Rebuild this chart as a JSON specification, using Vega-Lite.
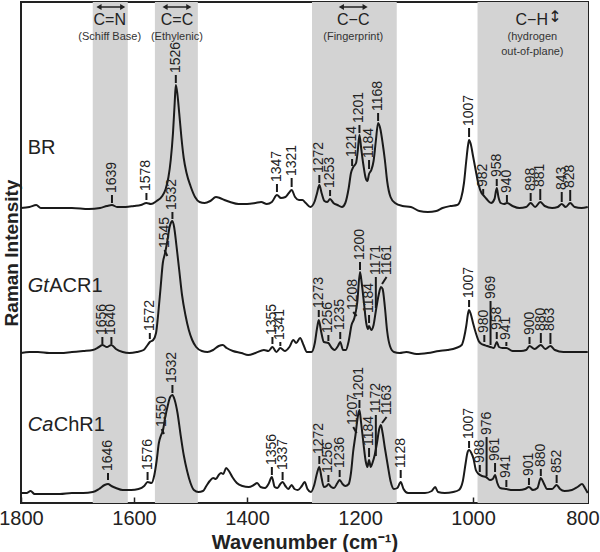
{
"$schema":"https://vega.github.io/schema/vega-lite/v6.json",
"width":567,"height":501,
"autosize":{"type":"none"},
"padding":{"left":21,"top":2,"right":12,"bottom":49},
"background":"white",
"config":{"view":{"stroke":"#222","strokeWidth":2},"font":"Liberation Sans"},
"datasets":{
"regions":[{"wn":1673,"wn2":1611},{"wn":1563,"wn2":1487},{"wn":1285,"wn2":1135},{"wn":992,"wn2":796.5}],
"spec":[
{"s":"BR","wn":1800,"v":295},{"s":"BR","wn":1785,"v":296},{"s":"BR","wn":1773,"v":298},{"s":"BR","wn":1765,"v":295},{"s":"BR","wn":1740,"v":295},{"s":"BR","wn":1710,"v":295},{"s":"BR","wn":1680,"v":294},{"s":"BR","wn":1660,"v":295},{"s":"BR","wn":1648,"v":297},{"s":"BR","wn":1639,"v":298},{"s":"BR","wn":1630,"v":296},{"s":"BR","wn":1615,"v":296},{"s":"BR","wn":1600,"v":297},{"s":"BR","wn":1588,"v":298},{"s":"BR","wn":1578,"v":300},{"s":"BR","wn":1570,"v":299},{"s":"BR","wn":1560,"v":302},{"s":"BR","wn":1550,"v":307},{"s":"BR","wn":1544,"v":314},{"s":"BR","wn":1539,"v":326},{"s":"BR","wn":1535,"v":343},{"s":"BR","wn":1531,"v":370},{"s":"BR","wn":1528,"v":400},{"s":"BR","wn":1526,"v":418},{"s":"BR","wn":1523,"v":408},{"s":"BR","wn":1520,"v":390},{"s":"BR","wn":1516,"v":365},{"s":"BR","wn":1512,"v":345},{"s":"BR","wn":1507,"v":330},{"s":"BR","wn":1500,"v":317},{"s":"BR","wn":1492,"v":306},{"s":"BR","wn":1484,"v":301},{"s":"BR","wn":1475,"v":300},{"s":"BR","wn":1465,"v":302},{"s":"BR","wn":1455,"v":306},{"s":"BR","wn":1448,"v":305},{"s":"BR","wn":1440,"v":303},{"s":"BR","wn":1430,"v":301},{"s":"BR","wn":1415,"v":299},{"s":"BR","wn":1400,"v":299},{"s":"BR","wn":1385,"v":300},{"s":"BR","wn":1375,"v":301},{"s":"BR","wn":1365,"v":299},{"s":"BR","wn":1356,"v":301},{"s":"BR","wn":1347,"v":308},{"s":"BR","wn":1340,"v":305},{"s":"BR","wn":1332,"v":306},{"s":"BR","wn":1326,"v":310},{"s":"BR","wn":1321,"v":313},{"s":"BR","wn":1315,"v":306},{"s":"BR","wn":1308,"v":303},{"s":"BR","wn":1302,"v":303},{"s":"BR","wn":1296,"v":300},{"s":"BR","wn":1288,"v":296},{"s":"BR","wn":1280,"v":302},{"s":"BR","wn":1276,"v":310},{"s":"BR","wn":1272,"v":318},{"s":"BR","wn":1268,"v":310},{"s":"BR","wn":1263,"v":302},{"s":"BR","wn":1258,"v":301},{"s":"BR","wn":1253,"v":304},{"s":"BR","wn":1247,"v":300},{"s":"BR","wn":1240,"v":298},{"s":"BR","wn":1232,"v":296},{"s":"BR","wn":1226,"v":300},{"s":"BR","wn":1220,"v":315},{"s":"BR","wn":1216,"v":330},{"s":"BR","wn":1212,"v":336},{"s":"BR","wn":1207,"v":340},{"s":"BR","wn":1204,"v":352},{"s":"BR","wn":1201,"v":368},{"s":"BR","wn":1198,"v":355},{"s":"BR","wn":1194,"v":338},{"s":"BR","wn":1190,"v":325},{"s":"BR","wn":1187,"v":322},{"s":"BR","wn":1184,"v":329},{"s":"BR","wn":1180,"v":333},{"s":"BR","wn":1176,"v":342},{"s":"BR","wn":1172,"v":362},{"s":"BR","wn":1168,"v":380},{"s":"BR","wn":1164,"v":374},{"s":"BR","wn":1160,"v":360},{"s":"BR","wn":1156,"v":343},{"s":"BR","wn":1152,"v":322},{"s":"BR","wn":1146,"v":306},{"s":"BR","wn":1138,"v":300},{"s":"BR","wn":1125,"v":297},{"s":"BR","wn":1110,"v":296},{"s":"BR","wn":1095,"v":292},{"s":"BR","wn":1080,"v":291},{"s":"BR","wn":1065,"v":292},{"s":"BR","wn":1054,"v":295},{"s":"BR","wn":1040,"v":297},{"s":"BR","wn":1028,"v":298},{"s":"BR","wn":1021,"v":305},{"s":"BR","wn":1016,"v":320},{"s":"BR","wn":1012,"v":342},{"s":"BR","wn":1009,"v":357},{"s":"BR","wn":1007,"v":363},{"s":"BR","wn":1004,"v":359},{"s":"BR","wn":1000,"v":347},{"s":"BR","wn":995,"v":332},{"s":"BR","wn":990,"v":318},{"s":"BR","wn":985,"v":310},{"s":"BR","wn":982,"v":308},{"s":"BR","wn":976,"v":304},{"s":"BR","wn":968,"v":300},{"s":"BR","wn":962,"v":304},{"s":"BR","wn":958,"v":315},{"s":"BR","wn":955,"v":306},{"s":"BR","wn":951,"v":300},{"s":"BR","wn":945,"v":299},{"s":"BR","wn":940,"v":300},{"s":"BR","wn":930,"v":297},{"s":"BR","wn":918,"v":295},{"s":"BR","wn":906,"v":296},{"s":"BR","wn":898,"v":300},{"s":"BR","wn":890,"v":296},{"s":"BR","wn":881,"v":301},{"s":"BR","wn":873,"v":297},{"s":"BR","wn":860,"v":295},{"s":"BR","wn":850,"v":296},{"s":"BR","wn":843,"v":299},{"s":"BR","wn":836,"v":296},{"s":"BR","wn":828,"v":300},{"s":"BR","wn":820,"v":296},{"s":"BR","wn":808,"v":295},{"s":"BR","wn":797,"v":296},
{"s":"Gt","wn":1800,"v":150},{"s":"Gt","wn":1785,"v":151},{"s":"Gt","wn":1770,"v":151},{"s":"Gt","wn":1750,"v":150},{"s":"Gt","wn":1730,"v":150},{"s":"Gt","wn":1710,"v":151},{"s":"Gt","wn":1690,"v":152},{"s":"Gt","wn":1673,"v":153},{"s":"Gt","wn":1662,"v":156},{"s":"Gt","wn":1656,"v":158},{"s":"Gt","wn":1648,"v":156},{"s":"Gt","wn":1640,"v":158},{"s":"Gt","wn":1632,"v":154},{"s":"Gt","wn":1620,"v":151},{"s":"Gt","wn":1608,"v":150},{"s":"Gt","wn":1595,"v":151},{"s":"Gt","wn":1583,"v":153},{"s":"Gt","wn":1576,"v":158},{"s":"Gt","wn":1572,"v":161},{"s":"Gt","wn":1566,"v":163},{"s":"Gt","wn":1561,"v":170},{"s":"Gt","wn":1557,"v":190},{"s":"Gt","wn":1553,"v":215},{"s":"Gt","wn":1549,"v":240},{"s":"Gt","wn":1545,"v":250},{"s":"Gt","wn":1541,"v":262},{"s":"Gt","wn":1537,"v":276},{"s":"Gt","wn":1534,"v":281},{"s":"Gt","wn":1532,"v":282},{"s":"Gt","wn":1529,"v":276},{"s":"Gt","wn":1525,"v":258},{"s":"Gt","wn":1520,"v":233},{"s":"Gt","wn":1515,"v":208},{"s":"Gt","wn":1509,"v":188},{"s":"Gt","wn":1503,"v":173},{"s":"Gt","wn":1497,"v":163},{"s":"Gt","wn":1490,"v":156},{"s":"Gt","wn":1480,"v":152},{"s":"Gt","wn":1470,"v":151},{"s":"Gt","wn":1460,"v":153},{"s":"Gt","wn":1450,"v":157},{"s":"Gt","wn":1443,"v":158},{"s":"Gt","wn":1436,"v":155},{"s":"Gt","wn":1425,"v":152},{"s":"Gt","wn":1410,"v":150},{"s":"Gt","wn":1398,"v":148},{"s":"Gt","wn":1385,"v":150},{"s":"Gt","wn":1370,"v":153},{"s":"Gt","wn":1362,"v":152},{"s":"Gt","wn":1355,"v":156},{"s":"Gt","wn":1348,"v":151},{"s":"Gt","wn":1341,"v":155},{"s":"Gt","wn":1333,"v":152},{"s":"Gt","wn":1325,"v":156},{"s":"Gt","wn":1318,"v":163},{"s":"Gt","wn":1313,"v":160},{"s":"Gt","wn":1306,"v":165},{"s":"Gt","wn":1300,"v":158},{"s":"Gt","wn":1294,"v":151},{"s":"Gt","wn":1286,"v":151},{"s":"Gt","wn":1280,"v":160},{"s":"Gt","wn":1276,"v":175},{"s":"Gt","wn":1273,"v":183},{"s":"Gt","wn":1269,"v":172},{"s":"Gt","wn":1264,"v":161},{"s":"Gt","wn":1256,"v":160},{"s":"Gt","wn":1250,"v":155},{"s":"Gt","wn":1245,"v":153},{"s":"Gt","wn":1239,"v":157},{"s":"Gt","wn":1235,"v":161},{"s":"Gt","wn":1230,"v":153},{"s":"Gt","wn":1225,"v":153},{"s":"Gt","wn":1220,"v":162},{"s":"Gt","wn":1215,"v":178},{"s":"Gt","wn":1210,"v":185},{"s":"Gt","wn":1205,"v":200},{"s":"Gt","wn":1200,"v":231},{"s":"Gt","wn":1197,"v":220},{"s":"Gt","wn":1193,"v":200},{"s":"Gt","wn":1189,"v":180},{"s":"Gt","wn":1186,"v":174},{"s":"Gt","wn":1184,"v":177},{"s":"Gt","wn":1180,"v":173},{"s":"Gt","wn":1176,"v":178},{"s":"Gt","wn":1172,"v":192},{"s":"Gt","wn":1167,"v":208},{"s":"Gt","wn":1163,"v":216},{"s":"Gt","wn":1160,"v":214},{"s":"Gt","wn":1156,"v":196},{"s":"Gt","wn":1152,"v":172},{"s":"Gt","wn":1147,"v":157},{"s":"Gt","wn":1140,"v":151},{"s":"Gt","wn":1130,"v":150},{"s":"Gt","wn":1118,"v":151},{"s":"Gt","wn":1100,"v":149},{"s":"Gt","wn":1080,"v":150},{"s":"Gt","wn":1060,"v":152},{"s":"Gt","wn":1045,"v":153},{"s":"Gt","wn":1030,"v":155},{"s":"Gt","wn":1020,"v":158},{"s":"Gt","wn":1016,"v":165},{"s":"Gt","wn":1012,"v":177},{"s":"Gt","wn":1009,"v":189},{"s":"Gt","wn":1007,"v":193},{"s":"Gt","wn":1004,"v":189},{"s":"Gt","wn":1000,"v":180},{"s":"Gt","wn":995,"v":170},{"s":"Gt","wn":990,"v":162},{"s":"Gt","wn":985,"v":159},{"s":"Gt","wn":980,"v":158},{"s":"Gt","wn":975,"v":157},{"s":"Gt","wn":969,"v":156},{"s":"Gt","wn":963,"v":155},{"s":"Gt","wn":958,"v":161},{"s":"Gt","wn":954,"v":156},{"s":"Gt","wn":948,"v":155},{"s":"Gt","wn":941,"v":155},{"s":"Gt","wn":930,"v":152},{"s":"Gt","wn":915,"v":152},{"s":"Gt","wn":906,"v":153},{"s":"Gt","wn":900,"v":157},{"s":"Gt","wn":891,"v":154},{"s":"Gt","wn":880,"v":158},{"s":"Gt","wn":872,"v":154},{"s":"Gt","wn":863,"v":157},{"s":"Gt","wn":855,"v":153},{"s":"Gt","wn":840,"v":151},{"s":"Gt","wn":820,"v":151},{"s":"Gt","wn":797,"v":151},
{"s":"Ca","wn":1800,"v":10},{"s":"Ca","wn":1790,"v":10},{"s":"Ca","wn":1783,"v":12},{"s":"Ca","wn":1776,"v":9},{"s":"Ca","wn":1760,"v":9},{"s":"Ca","wn":1731,"v":9},{"s":"Ca","wn":1710,"v":10},{"s":"Ca","wn":1690,"v":10},{"s":"Ca","wn":1673,"v":11},{"s":"Ca","wn":1662,"v":14},{"s":"Ca","wn":1652,"v":18},{"s":"Ca","wn":1646,"v":19},{"s":"Ca","wn":1640,"v":17},{"s":"Ca","wn":1632,"v":15},{"s":"Ca","wn":1620,"v":13},{"s":"Ca","wn":1605,"v":13},{"s":"Ca","wn":1592,"v":14},{"s":"Ca","wn":1582,"v":17},{"s":"Ca","wn":1576,"v":21},{"s":"Ca","wn":1569,"v":20},{"s":"Ca","wn":1564,"v":28},{"s":"Ca","wn":1560,"v":42},{"s":"Ca","wn":1556,"v":60},{"s":"Ca","wn":1552,"v":68},{"s":"Ca","wn":1549,"v":72},{"s":"Ca","wn":1545,"v":85},{"s":"Ca","wn":1540,"v":98},{"s":"Ca","wn":1536,"v":106},{"s":"Ca","wn":1532,"v":108},{"s":"Ca","wn":1528,"v":103},{"s":"Ca","wn":1523,"v":90},{"s":"Ca","wn":1518,"v":70},{"s":"Ca","wn":1512,"v":48},{"s":"Ca","wn":1506,"v":32},{"s":"Ca","wn":1500,"v":20},{"s":"Ca","wn":1494,"v":13},{"s":"Ca","wn":1486,"v":11},{"s":"Ca","wn":1478,"v":12},{"s":"Ca","wn":1472,"v":17},{"s":"Ca","wn":1466,"v":22},{"s":"Ca","wn":1460,"v":25},{"s":"Ca","wn":1455,"v":24},{"s":"Ca","wn":1450,"v":28},{"s":"Ca","wn":1446,"v":30},{"s":"Ca","wn":1442,"v":29},{"s":"Ca","wn":1437,"v":35},{"s":"Ca","wn":1432,"v":32},{"s":"Ca","wn":1426,"v":26},{"s":"Ca","wn":1418,"v":20},{"s":"Ca","wn":1408,"v":17},{"s":"Ca","wn":1397,"v":16},{"s":"Ca","wn":1388,"v":18},{"s":"Ca","wn":1382,"v":20},{"s":"Ca","wn":1376,"v":16},{"s":"Ca","wn":1368,"v":15},{"s":"Ca","wn":1362,"v":19},{"s":"Ca","wn":1356,"v":26},{"s":"Ca","wn":1351,"v":16},{"s":"Ca","wn":1346,"v":15},{"s":"Ca","wn":1341,"v":19},{"s":"Ca","wn":1337,"v":21},{"s":"Ca","wn":1332,"v":17},{"s":"Ca","wn":1327,"v":14},{"s":"Ca","wn":1321,"v":18},{"s":"Ca","wn":1316,"v":14},{"s":"Ca","wn":1310,"v":13},{"s":"Ca","wn":1303,"v":17},{"s":"Ca","wn":1298,"v":21},{"s":"Ca","wn":1293,"v":14},{"s":"Ca","wn":1287,"v":11},{"s":"Ca","wn":1281,"v":18},{"s":"Ca","wn":1276,"v":30},{"s":"Ca","wn":1272,"v":36},{"s":"Ca","wn":1268,"v":25},{"s":"Ca","wn":1264,"v":16},{"s":"Ca","wn":1259,"v":17},{"s":"Ca","wn":1256,"v":19},{"s":"Ca","wn":1251,"v":16},{"s":"Ca","wn":1246,"v":15},{"s":"Ca","wn":1240,"v":20},{"s":"Ca","wn":1236,"v":23},{"s":"Ca","wn":1231,"v":19},{"s":"Ca","wn":1226,"v":17},{"s":"Ca","wn":1220,"v":19},{"s":"Ca","wn":1216,"v":30},{"s":"Ca","wn":1212,"v":52},{"s":"Ca","wn":1208,"v":68},{"s":"Ca","wn":1204,"v":86},{"s":"Ca","wn":1201,"v":93},{"s":"Ca","wn":1198,"v":80},{"s":"Ca","wn":1194,"v":60},{"s":"Ca","wn":1190,"v":42},{"s":"Ca","wn":1187,"v":36},{"s":"Ca","wn":1184,"v":43},{"s":"Ca","wn":1181,"v":36},{"s":"Ca","wn":1178,"v":40},{"s":"Ca","wn":1174,"v":48},{"s":"Ca","wn":1170,"v":60},{"s":"Ca","wn":1166,"v":74},{"s":"Ca","wn":1163,"v":78},{"s":"Ca","wn":1160,"v":70},{"s":"Ca","wn":1156,"v":55},{"s":"Ca","wn":1151,"v":38},{"s":"Ca","wn":1146,"v":22},{"s":"Ca","wn":1140,"v":14},{"s":"Ca","wn":1134,"v":15},{"s":"Ca","wn":1128,"v":21},{"s":"Ca","wn":1123,"v":14},{"s":"Ca","wn":1115,"v":10},{"s":"Ca","wn":1100,"v":10},{"s":"Ca","wn":1085,"v":10},{"s":"Ca","wn":1073,"v":12},{"s":"Ca","wn":1067,"v":16},{"s":"Ca","wn":1062,"v":11},{"s":"Ca","wn":1050,"v":10},{"s":"Ca","wn":1035,"v":11},{"s":"Ca","wn":1025,"v":13},{"s":"Ca","wn":1018,"v":22},{"s":"Ca","wn":1013,"v":40},{"s":"Ca","wn":1010,"v":50},{"s":"Ca","wn":1007,"v":53},{"s":"Ca","wn":1003,"v":50},{"s":"Ca","wn":999,"v":44},{"s":"Ca","wn":995,"v":33},{"s":"Ca","wn":990,"v":29},{"s":"Ca","wn":984,"v":27},{"s":"Ca","wn":977,"v":26},{"s":"Ca","wn":970,"v":23},{"s":"Ca","wn":965,"v":24},{"s":"Ca","wn":961,"v":28},{"s":"Ca","wn":957,"v":20},{"s":"Ca","wn":952,"v":15},{"s":"Ca","wn":941,"v":14},{"s":"Ca","wn":930,"v":13},{"s":"Ca","wn":918,"v":13},{"s":"Ca","wn":908,"v":14},{"s":"Ca","wn":901,"v":16},{"s":"Ca","wn":894,"v":13},{"s":"Ca","wn":886,"v":15},{"s":"Ca","wn":880,"v":25},{"s":"Ca","wn":875,"v":20},{"s":"Ca","wn":869,"v":14},{"s":"Ca","wn":860,"v":14},{"s":"Ca","wn":852,"v":18},{"s":"Ca","wn":846,"v":14},{"s":"Ca","wn":838,"v":12},{"s":"Ca","wn":825,"v":13},{"s":"Ca","wn":815,"v":16},{"s":"Ca","wn":807,"v":19},{"s":"Ca","wn":802,"v":15},{"s":"Ca","wn":797,"v":10}
],
"labels":[
{"t":"1639","wn":1639,"v":300,"wn2":1639,"v2":308},{"t":"1578","wn":1578,"v":303,"wn2":1578,"v2":310},{"t":"1526","wn":1526,"v":420,"wn2":1526,"v2":428},{"t":"1347","wn":1347,"v":311,"wn2":1347,"v2":319},{"t":"1321","wn":1321,"v":316,"wn2":1321,"v2":325},{"t":"1272","wn":1272,"v":320,"wn2":1272,"v2":328},{"t":"1253","wn":1253,"v":307,"wn2":1253,"v2":313},{"t":"1214","wn":1214,"v":337,"wn2":1214,"v2":344},{"t":"1201","wn":1201,"v":370,"wn2":1201,"v2":378},{"t":"1184","wn":1184,"v":334,"wn2":1184,"v2":343},{"t":"1168","wn":1168,"v":382,"wn2":1168,"v2":390},{"t":"1007","wn":1007,"v":366,"wn2":1007,"v2":375},{"t":"982","wn":982,"v":309,"wn2":982,"v2":314},{"t":"958","wn":958,"v":317,"wn2":958,"v2":324},{"t":"940","wn":940,"v":301,"wn2":940,"v2":308},{"t":"898","wn":898,"v":302,"wn2":898,"v2":310},{"t":"881","wn":881,"v":303,"wn2":881,"v2":314},{"t":"843","wn":843,"v":301,"wn2":843,"v2":311},{"t":"828","wn":828,"v":302,"wn2":828,"v2":313},
{"t":"1656","wn":1656,"v":159,"wn2":1656,"v2":166},{"t":"1640","wn":1640,"v":159,"wn2":1640,"v2":166},{"t":"1572","wn":1572,"v":164,"wn2":1572,"v2":170},{"t":"1545","wn":1541,"v":247,"wn2":1546,"v2":253},{"t":"1532","wn":1532,"v":284,"wn2":1532,"v2":291},{"t":"1355","wn":1355,"v":159,"wn2":1355,"v2":166},{"t":"1341","wn":1341,"v":157,"wn2":1341,"v2":161},{"t":"1273","wn":1273,"v":186,"wn2":1273,"v2":193},{"t":"1256","wn":1256,"v":162,"wn2":1256,"v2":168},{"t":"1235","wn":1235,"v":164,"wn2":1235,"v2":171},{"t":"1208","wn":1206,"v":187,"wn2":1212,"v2":191},{"t":"1200","wn":1200,"v":233,"wn2":1200,"v2":241},{"t":"1184","wn":1184,"v":180,"wn2":1184,"v2":188},{"t":"1171","wn":1172,"v":195,"wn2":1172,"v2":226},{"t":"1161","wn":1161,"v":219,"wn2":1153,"v2":226},{"t":"1007","wn":1007,"v":196,"wn2":1007,"v2":203},{"t":"980","wn":980,"v":161,"wn2":980,"v2":168},{"t":"969","wn":969,"v":158,"wn2":969,"v2":202},{"t":"958","wn":958,"v":164,"wn2":958,"v2":171},{"t":"941","wn":941,"v":157,"wn2":941,"v2":161},{"t":"900","wn":900,"v":159,"wn2":900,"v2":166},{"t":"880","wn":880,"v":160,"wn2":880,"v2":170},{"t":"863","wn":863,"v":159,"wn2":863,"v2":170},
{"t":"1646","wn":1646,"v":23,"wn2":1646,"v2":30},{"t":"1576","wn":1576,"v":23,"wn2":1576,"v2":31},{"t":"1550","wn":1547,"v":69,"wn2":1551,"v2":74},{"t":"1532","wn":1532,"v":110,"wn2":1532,"v2":118},{"t":"1356","wn":1356,"v":28,"wn2":1356,"v2":36},{"t":"1337","wn":1337,"v":23,"wn2":1337,"v2":31},{"t":"1272","wn":1272,"v":39,"wn2":1272,"v2":47},{"t":"1256","wn":1256,"v":21,"wn2":1256,"v2":28},{"t":"1236","wn":1236,"v":26,"wn2":1236,"v2":33},{"t":"1207","wn":1206,"v":70,"wn2":1212,"v2":76},{"t":"1201","wn":1201,"v":95,"wn2":1201,"v2":103},{"t":"1184","wn":1184,"v":46,"wn2":1184,"v2":55},{"t":"1172","wn":1172,"v":47,"wn2":1172,"v2":88},{"t":"1163","wn":1161,"v":80,"wn2":1153,"v2":86},{"t":"1128","wn":1128,"v":25,"wn2":1128,"v2":33},{"t":"1007","wn":1007,"v":55,"wn2":1007,"v2":62},{"t":"988","wn":988,"v":31,"wn2":988,"v2":38},{"t":"976","wn":976,"v":27,"wn2":976,"v2":66},{"t":"961","wn":961,"v":31,"wn2":961,"v2":40},{"t":"941","wn":941,"v":16,"wn2":941,"v2":23},{"t":"901","wn":901,"v":18,"wn2":901,"v2":25},{"t":"880","wn":880,"v":27,"wn2":880,"v2":34},{"t":"852","wn":852,"v":20,"wn2":852,"v2":28}
],
"big":[{"t":"C=N","wn":1643,"v":478},{"t":"C=C","wn":1524,"v":478},{"t":"C−C","wn":1212,"v":478},{"t":"C−H","wn":896,"v":478}],
"small":[{"t":"(Schiff Base)","wn":1643,"v":463},{"t":"(Ethylenic)","wn":1524,"v":463},{"t":"(Fingerprint)","wn":1212,"v":463},{"t":"(hydrogen","wn":895,"v":463},{"t":"out-of-plane)","wn":895,"v":448}],
"arrowLines":[{"wn":1664,"wn2":1618,"v":496},{"wn":1546,"wn2":1502,"v":496},{"wn":1234,"wn2":1190,"v":496}],
"headsL":[{"wn":1662,"v":496},{"wn":1545,"v":496},{"wn":1233,"v":496}],
"headsR":[{"wn":1620,"v":496},{"wn":1503,"v":496},{"wn":1191,"v":496}],
"sym":[{"t":"↕","wn":855,"v":486}],
"names":[{"t":"BR","wn":1788,"v":349},{"t":"ACR1","wn":1750,"v":211},{"t":"ChR1","wn":1742,"v":72}],
"namesIt":[{"t":"Gt","wn":1788,"v":211},{"t":"Ca","wn":1788,"v":72}]
},
"encoding":{"x":{"field":"wn","type":"quantitative","title":"Wavenumber (cm⁻¹)","scale":{"domain":[1800,796.5],"nice":false,"zero":false},"axis":{"values":[800,1000,1200,1400,1600,1800],"format":"d","tickSize":-6,"tickWidth":1.5,"tickColor":"#222","labelFontSize":20,"labelFont":"Liberation Sans","labelColor":"#222","labelPadding":11,"labelFlush":false,"labelAlign":{"condition":{"test":"datum.value == 800","value":"right"},"value":"center"},"labelOffset":{"condition":{"test":"datum.value == 800","value":13},"value":0},"domain":false,"grid":false,"titleFontSize":20,"titleFont":"Liberation Sans","titleFontWeight":"bold","titleColor":"#222","titlePadding":4}}},
"layer":[
{"data":{"name":"regions"},"mark":{"type":"rect","color":"#d3d3d3"},"encoding":{"x2":{"field":"wn2"}}},
{"data":{"name":"spec"},"mark":{"type":"line","color":"#1a1a1a","strokeWidth":2,"interpolate":"monotone"},"encoding":{"y":{"field":"v","type":"quantitative","title":"Raman Intensity","scale":{"domain":[0,501],"nice":false,"zero":false},"axis":{"ticks":false,"labels":false,"domain":false,"grid":false,"titleFontSize":19,"titleFont":"Liberation Sans","titleFontWeight":"bold","titleColor":"#222","titleBaseline":"alphabetic","titlePadding":3.5}},"detail":{"field":"s"}}},
{"data":{"name":"labels"},"mark":{"type":"rule","color":"#1a1a1a","strokeWidth":2},"encoding":{"y":{"field":"v","type":"quantitative","title":"Raman Intensity","scale":{"domain":[0,501],"nice":false,"zero":false}},"x2":{"field":"wn2"},"y2":{"field":"v2"}}},
{"data":{"name":"labels"},"mark":{"type":"text","angle":270,"align":"left","baseline":"middle","dx":2,"fontSize":14,"font":"Liberation Sans","color":"#222"},"encoding":{"x":{"field":"wn2","type":"quantitative","title":"Wavenumber (cm⁻¹)"},"y":{"field":"v2","type":"quantitative","title":"Raman Intensity","scale":{"domain":[0,501],"nice":false,"zero":false}},"text":{"field":"t"}}},
{"data":{"name":"arrowLines"},"mark":{"type":"rule","color":"#222","strokeWidth":1.5},"encoding":{"y":{"field":"v","type":"quantitative","title":"Raman Intensity","scale":{"domain":[0,501],"nice":false,"zero":false}},"x2":{"field":"wn2"}}},
{"data":{"name":"headsL"},"mark":{"type":"point","shape":"triangle-left","filled":true,"size":35,"color":"#222","opacity":1},"encoding":{"y":{"field":"v","type":"quantitative","title":"Raman Intensity","scale":{"domain":[0,501],"nice":false,"zero":false}}}},
{"data":{"name":"headsR"},"mark":{"type":"point","shape":"triangle-right","filled":true,"size":35,"color":"#222","opacity":1},"encoding":{"y":{"field":"v","type":"quantitative","title":"Raman Intensity","scale":{"domain":[0,501],"nice":false,"zero":false}}}},
{"data":{"name":"big"},"mark":{"type":"text","align":"center","baseline":"alphabetic","fontSize":16,"font":"Liberation Sans","color":"#222"},"encoding":{"y":{"field":"v","type":"quantitative","title":"Raman Intensity","scale":{"domain":[0,501],"nice":false,"zero":false}},"text":{"field":"t"}}},
{"data":{"name":"small"},"mark":{"type":"text","align":"center","baseline":"alphabetic","fontSize":11,"font":"Liberation Sans","color":"#333"},"encoding":{"y":{"field":"v","type":"quantitative","title":"Raman Intensity","scale":{"domain":[0,501],"nice":false,"zero":false}},"text":{"field":"t"}}},
{"data":{"name":"sym"},"mark":{"type":"text","align":"center","baseline":"middle","fontSize":16,"font":"DejaVu Sans","color":"#222"},"encoding":{"y":{"field":"v","type":"quantitative","title":"Raman Intensity","scale":{"domain":[0,501],"nice":false,"zero":false}},"text":{"field":"t"}}},
{"data":{"name":"names"},"mark":{"type":"text","align":"left","baseline":"alphabetic","fontSize":20,"font":"Liberation Sans","color":"#222"},"encoding":{"y":{"field":"v","type":"quantitative","title":"Raman Intensity","scale":{"domain":[0,501],"nice":false,"zero":false}},"text":{"field":"t"}}},
{"data":{"name":"namesIt"},"mark":{"type":"text","align":"left","baseline":"alphabetic","fontSize":20,"fontStyle":"italic","font":"Liberation Sans","color":"#222"},"encoding":{"y":{"field":"v","type":"quantitative","title":"Raman Intensity","scale":{"domain":[0,501],"nice":false,"zero":false}},"text":{"field":"t"}}}
]
}
